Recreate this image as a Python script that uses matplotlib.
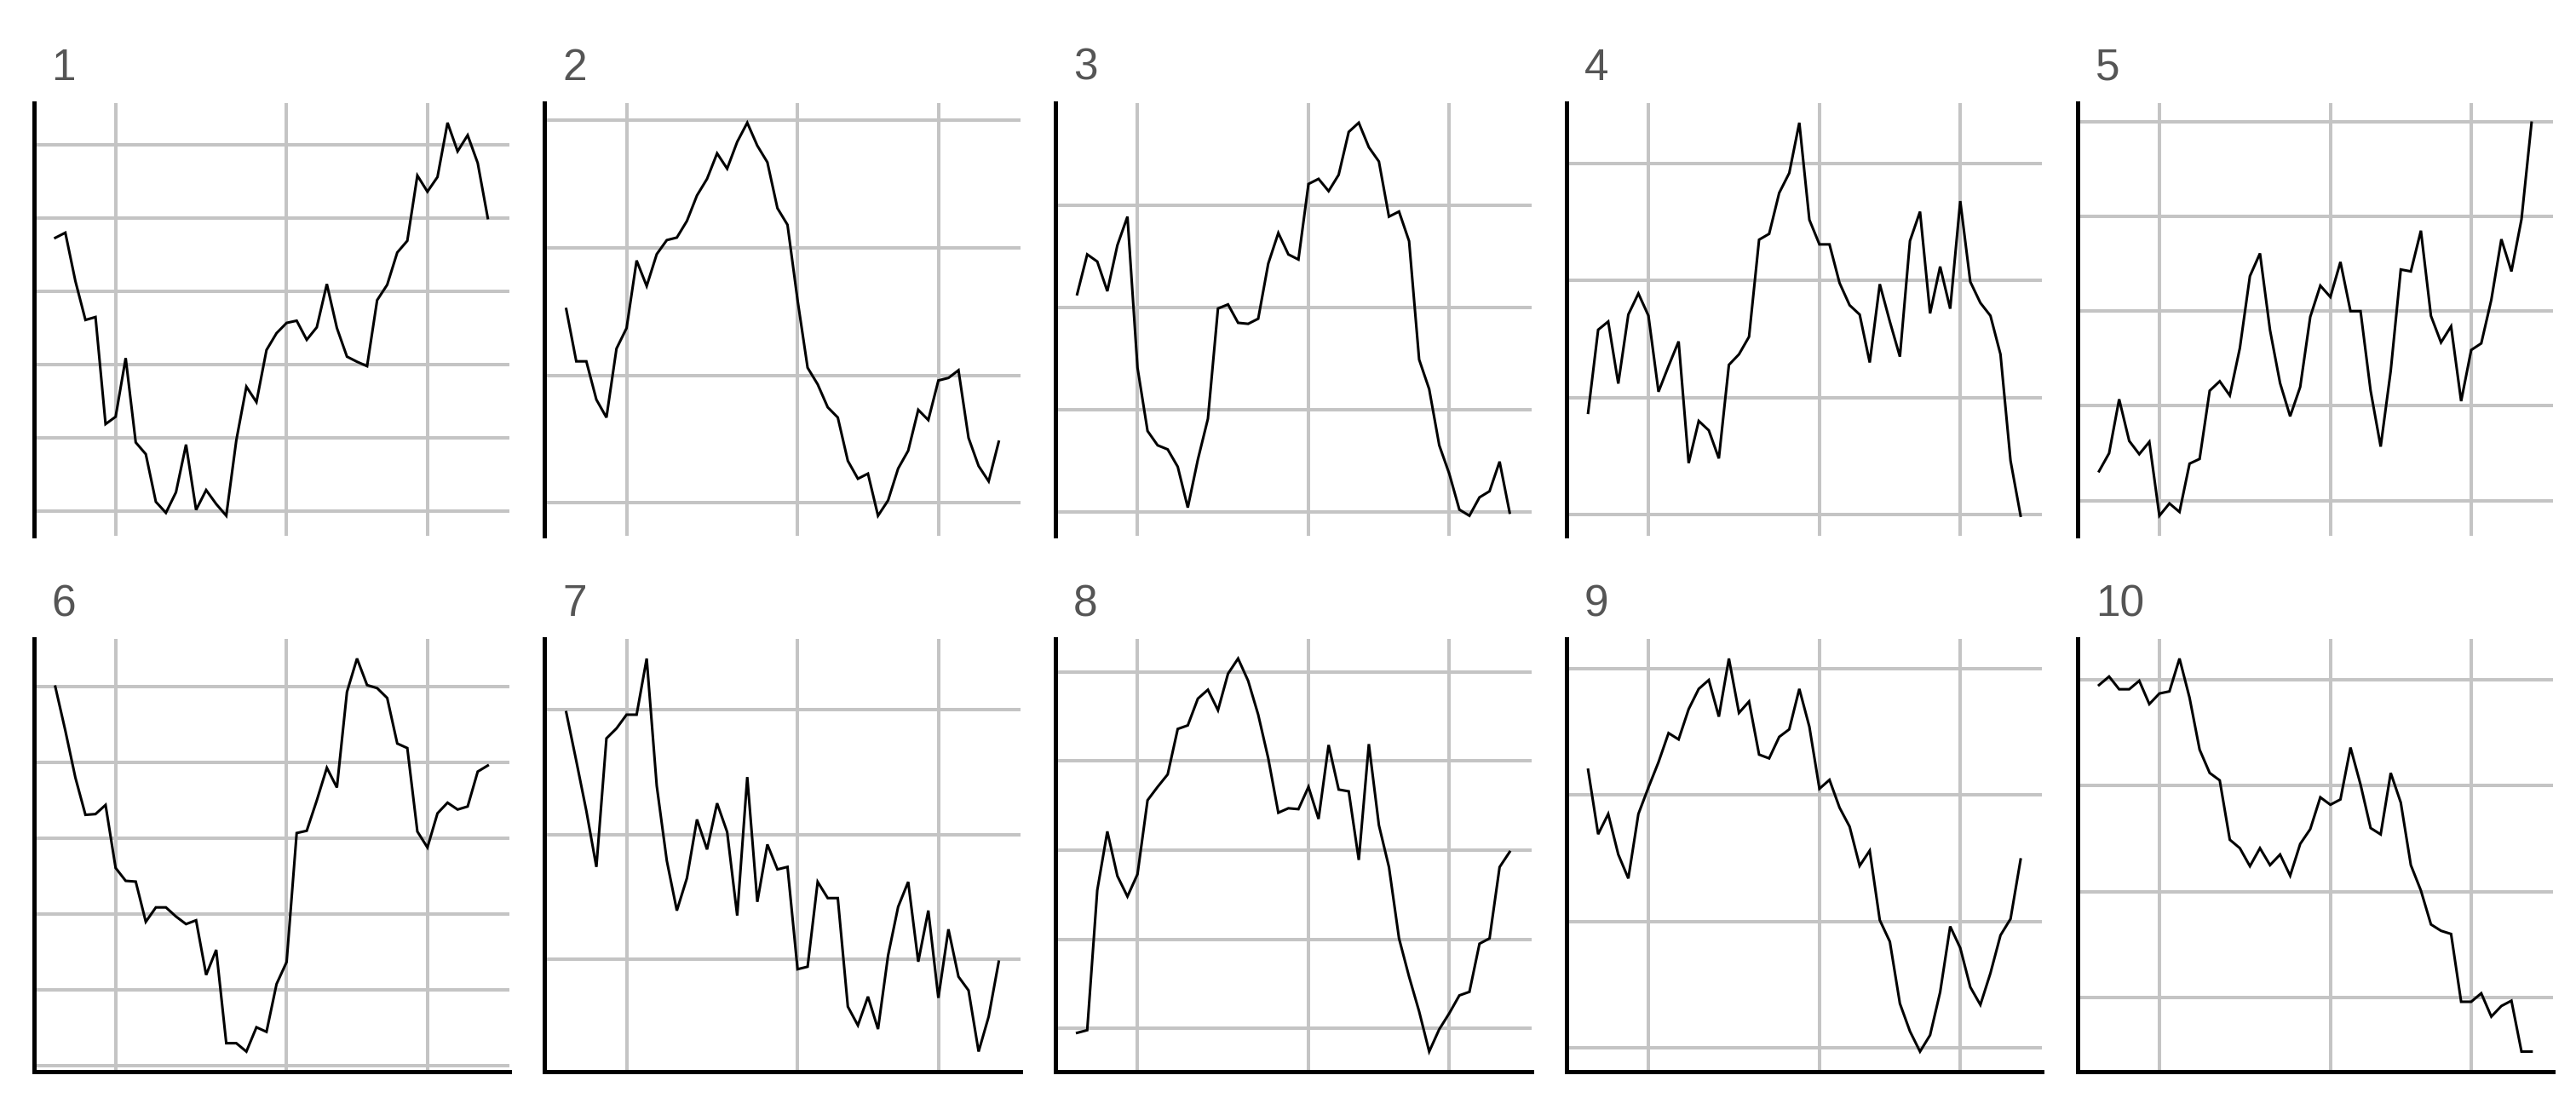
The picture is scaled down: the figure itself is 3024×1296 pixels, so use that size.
import numpy as np
import matplotlib
matplotlib.use("Agg")
import matplotlib.pyplot as plt

# ---------------- data ----------------
panel_titles = ["1", "2", "3", "4", "5", "6", "7", "8", "9", "10"]
x_index = list(range(44))          # observation index (shared x axis)
x_grid_ticks = [6, 23, 37]         # vertical gridline positions

s1 = [3.73, 3.80, 3.14, 2.61, 2.65, 1.19, 1.29, 2.09, 0.94, 0.78,
      0.13, -0.02, 0.26, 0.91, 0.02, 0.29, 0.10, -0.06, 0.97, 1.70,
      1.49, 2.20, 2.43, 2.57, 2.60, 2.34, 2.51, 3.10, 2.50, 2.11,
      2.04, 1.98, 2.88, 3.09, 3.53, 3.69, 4.58, 4.36, 4.56, 5.30,
      4.91, 5.13, 4.75, 4.00]
s2 = [1.52, 1.11, 1.11, 0.81, 0.67, 1.21, 1.37, 1.90, 1.70, 1.95,
      2.06, 2.08, 2.21, 2.41, 2.54, 2.74, 2.62, 2.83, 2.98, 2.80,
      2.67, 2.31, 2.18, 1.59, 1.06, 0.93, 0.75, 0.67, 0.33, 0.19,
      0.23, -0.10, 0.02, 0.27, 0.41, 0.73, 0.65, 0.96, 0.98, 1.04,
      0.51, 0.29, 0.17, 0.48]
s3 = [2.13, 2.52, 2.45, 2.16, 2.61, 2.89, 1.41, 0.79, 0.65, 0.61,
      0.44, 0.04, 0.51, 0.91, 1.99, 2.03, 1.85, 1.84, 1.89, 2.43,
      2.73, 2.52, 2.47, 3.21, 3.26, 3.14, 3.30, 3.72, 3.81, 3.57,
      3.43, 2.89, 2.94, 2.65, 1.49, 1.20, 0.65, 0.37, 0.02, -0.04,
      0.14, 0.20, 0.49, -0.01]
s4 = [0.87, 1.58, 1.65, 1.12, 1.71, 1.89, 1.70, 1.05, 1.27, 1.48,
      0.44, 0.80, 0.72, 0.48, 1.28, 1.37, 1.52, 2.35, 2.40, 2.75,
      2.92, 3.35, 2.52, 2.31, 2.31, 1.98, 1.79, 1.71, 1.30, 1.97,
      1.65, 1.35, 2.34, 2.59, 1.72, 2.12, 1.76, 2.68, 1.99, 1.81,
      1.70, 1.37, 0.46, -0.01]
s5 = [0.31, 0.50, 1.07, 0.63, 0.49, 0.62, -0.16, -0.03, -0.12, 0.39,
      0.44, 1.16, 1.26, 1.11, 1.61, 2.37, 2.61, 1.80, 1.24, 0.89,
      1.20, 1.94, 2.27, 2.15, 2.52, 2.00, 2.00, 1.16, 0.57, 1.37,
      2.44, 2.42, 2.85, 1.95, 1.67, 1.84, 1.05, 1.59, 1.66, 2.12,
      2.76, 2.42, 2.97, 3.99]
s6 = [5.00, 4.42, 3.80, 3.31, 3.32, 3.44, 2.61, 2.44, 2.43, 1.90,
      2.09, 2.09, 1.97, 1.87, 1.92, 1.20, 1.53, 0.30, 0.30, 0.19,
      0.51, 0.45, 1.08, 1.37, 3.07, 3.10, 3.50, 3.93, 3.67, 4.93,
      5.37, 5.02, 4.98, 4.85, 4.25, 4.19, 3.09, 2.88, 3.33, 3.47,
      3.38, 3.42, 3.88, 3.96]
s7 = [1.98, 1.59, 1.19, 0.74, 1.77, 1.85, 1.96, 1.96, 2.41, 1.39,
      0.79, 0.39, 0.65, 1.12, 0.88, 1.25, 1.02, 0.35, 1.46, 0.46,
      0.92, 0.72, 0.74, -0.08, -0.06, 0.62, 0.49, 0.49, -0.38, -0.53,
      -0.30, -0.56, 0.03, 0.42, 0.62, -0.02, 0.39, -0.31, 0.24, -0.14,
      -0.25, -0.74, -0.46, -0.02]
s8 = [-0.05, -0.02, 1.55, 2.21, 1.71, 1.48, 1.73, 2.56, 2.71, 2.85,
      3.36, 3.40, 3.70, 3.80, 3.57, 3.98, 4.15, 3.90, 3.52, 3.03,
      2.42, 2.47, 2.46, 2.71, 2.35, 3.18, 2.68, 2.66, 1.89, 3.19,
      2.28, 1.81, 1.01, 0.58, 0.19, -0.26, -0.01, 0.17, 0.37, 0.41,
      0.95, 1.01, 1.81, 1.98]
s9 = [2.20, 1.69, 1.85, 1.53, 1.34, 1.85, 2.06, 2.26, 2.49, 2.44,
      2.68, 2.84, 2.91, 2.62, 3.08, 2.65, 2.74, 2.32, 2.29, 2.46,
      2.52, 2.84, 2.54, 2.05, 2.12, 1.90, 1.75, 1.44, 1.56, 1.01,
      0.84, 0.35, 0.13, -0.03, 0.10, 0.44, 0.96, 0.79, 0.48, 0.34,
      0.59, 0.89, 1.02, 1.49]
s10 = [2.95, 3.03, 2.91, 2.91, 2.99, 2.77, 2.87, 2.89, 3.20, 2.83,
       2.34, 2.12, 2.05, 1.49, 1.41, 1.24, 1.41, 1.25, 1.35, 1.15,
       1.45, 1.59, 1.89, 1.82, 1.87, 2.36, 2.01, 1.60, 1.54, 2.12,
       1.84, 1.25, 1.01, 0.69, 0.63, 0.60, -0.04, -0.04, 0.04, -0.18,
       -0.08, -0.03, -0.51, -0.51]

y_ticks = [
    [0, 1, 2, 3, 4, 5],
    [0, 1, 2, 3],
    [0, 1, 2, 3],
    [0, 1, 2, 3],
    [0, 1, 2, 3, 4],
    [0, 1, 2, 3, 4, 5],
    [0, 1, 2],
    [0, 1, 2, 3, 4],
    [0, 1, 2, 3],
    [0, 1, 2, 3],
]
series = [s1, s2, s3, s4, s5, s6, s7, s8, s9, s10]

# ---------------- figure ----------------
plt.rcParams['font.family'] = ['Liberation Sans', 'DejaVu Sans']
W, H = 3024, 1296
fig = plt.figure(figsize=(W / 100, H / 100), dpi=100)

col_left0, col_pitch, col_w = 39.5, 599.8, 558.5
row_top = [121, 750]
row_h = 507.5

GRID = '#c4c4c4'

for i, (title, ys) in enumerate(zip(panel_titles, series)):
    r, c = divmod(i, 5)
    left = (col_left0 + c * col_pitch) / W
    bottom = 1 - (row_top[r] + row_h) / H
    ax = fig.add_axes([left, bottom, col_w / W, row_h / H])

    ax.plot(x_index, ys, color='black', lw=2.2, solid_joinstyle='miter', zorder=3)

    xlo, xhi = min(x_index), max(x_index)
    xp = 0.05 * (xhi - xlo)
    ylo, yhi = min(ys), max(ys)
    yp = 0.05 * (yhi - ylo)
    ax.set_xticks(x_grid_ticks)
    ax.set_yticks(y_ticks[i])
    ax.set_xlim(xlo - xp, xhi + xp)
    ax.set_ylim(ylo - yp, yhi + yp)

    ax.set_axisbelow(True)
    ax.grid(True, color=GRID, lw=2.9)
    ax.tick_params(length=0, labelbottom=False, labelleft=False)

    for side in ['top', 'right', 'bottom', 'left']:
        ax.spines[side].set_visible(False)
    ax.spines['left'].set_visible(True)
    ax.spines['left'].set_linewidth(3.6)
    ax.spines['left'].set_color('black')
    if r == 1:
        ax.spines['bottom'].set_visible(True)
        ax.spines['bottom'].set_linewidth(3.6)
        ax.spines['bottom'].set_color('black')

    ax.annotate(title, xy=(0, 1), xycoords='axes fraction',
                xytext=(21, 27), textcoords='offset pixels',
                ha='left', va='baseline', fontsize=37, color='#555555')

fig.savefig('out.png', dpi=100, facecolor='white')
